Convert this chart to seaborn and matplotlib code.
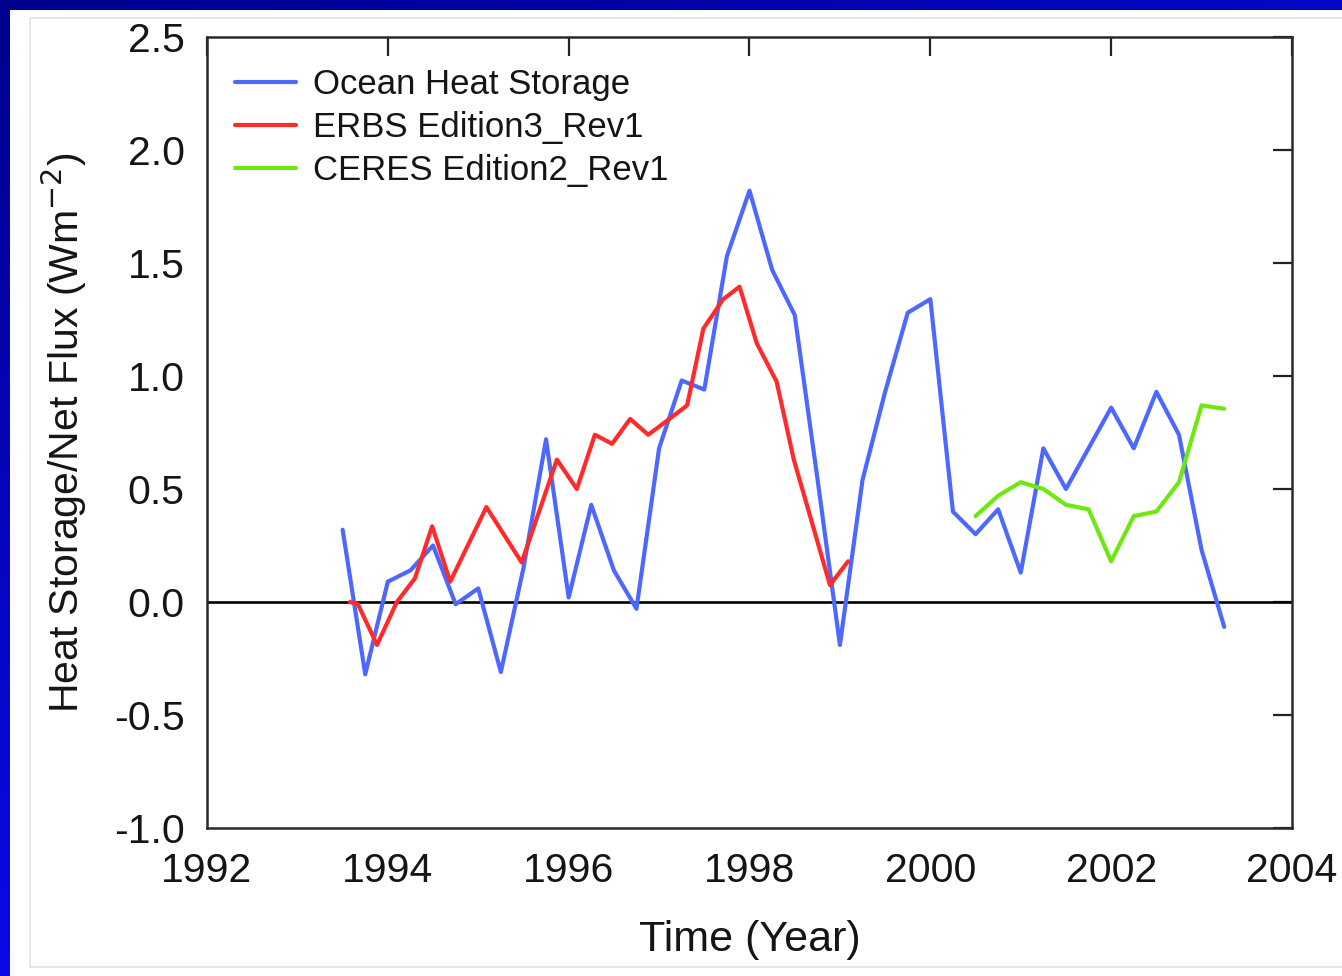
import numpy as np
import pandas as pd
import matplotlib
matplotlib.use("Agg")
import matplotlib.pyplot as plt
from matplotlib.patches import Rectangle
from matplotlib.lines import Line2D
import seaborn as sns

# Ocean heat storage (quarterly)
ocean_years = [1993.50, 1993.75, 1994.00, 1994.25, 1994.50, 1994.75, 1995.00, 1995.25,
               1995.50, 1995.75, 1996.00, 1996.25, 1996.50, 1996.75, 1997.00, 1997.25,
               1997.50, 1997.75, 1998.00, 1998.25, 1998.50, 1998.75, 1999.00, 1999.25,
               1999.50, 1999.75, 2000.00, 2000.25, 2000.50, 2000.75, 2001.00, 2001.25,
               2001.50, 2001.75, 2002.00, 2002.25, 2002.50, 2002.75, 2003.00, 2003.25]
ocean_vals = [0.32, -0.32, 0.09, 0.14, 0.25, -0.01, 0.06, -0.31,
              0.15, 0.72, 0.02, 0.43, 0.14, -0.03, 0.68, 0.98,
              0.94, 1.53, 1.82, 1.47, 1.27, 0.55, -0.19, 0.54,
              0.93, 1.28, 1.34, 0.40, 0.30, 0.41, 0.13, 0.68,
              0.50, 0.68, 0.86, 0.68, 0.93, 0.74, 0.23, -0.11]

# ERBS Edition3_Rev1 net flux
erbs_years = [1993.58, 1993.67, 1993.88, 1994.10, 1994.30, 1994.49, 1994.69, 1995.09,
              1995.48, 1995.87, 1996.09, 1996.29, 1996.48, 1996.68, 1996.88, 1997.08,
              1997.31, 1997.49, 1997.71, 1997.89, 1998.08, 1998.30, 1998.49, 1998.89,
              1999.09]
erbs_vals = [0.00, -0.01, -0.19, 0.00, 0.105, 0.335, 0.09, 0.42,
             0.175, 0.63, 0.50, 0.74, 0.70, 0.81, 0.74, 0.80,
             0.87, 1.21, 1.34, 1.395, 1.145, 0.975, 0.63, 0.075,
             0.18]

# CERES Edition2_Rev1 net flux
ceres_years = [2000.50, 2000.75, 2001.00, 2001.25, 2001.50, 2001.75,
               2002.00, 2002.25, 2002.50, 2002.75, 2003.00, 2003.25]
ceres_vals = [0.38, 0.47, 0.53, 0.50, 0.43, 0.41,
              0.18, 0.38, 0.40, 0.53, 0.87, 0.855]

series_names = ["Ocean Heat Storage", "ERBS Edition3_Rev1", "CERES Edition2_Rev1"]
series_colors = ["#4d68ff", "#ff2a2a", "#6ee810"]

x_ticks = [1992, 1994, 1996, 1998, 2000, 2002, 2004]
y_ticks = [-1.0, -0.5, 0.0, 0.5, 1.0, 1.5, 2.0, 2.5]

df = pd.concat([
    pd.DataFrame({"year": ocean_years, "value": ocean_vals, "series": series_names[0]}),
    pd.DataFrame({"year": erbs_years, "value": erbs_vals, "series": series_names[1]}),
    pd.DataFrame({"year": ceres_years, "value": ceres_vals, "series": series_names[2]}),
], ignore_index=True)

sns.set_theme(style="white")
plt.rcParams["font.family"] = ["Liberation Sans", "DejaVu Sans"]

W, H = 1342, 976
fig = plt.figure(figsize=(W / 100, H / 100), dpi=100)

# slide background: navy-to-blue gradient with a white panel
bg = fig.add_axes([0, 0, 1, 1], zorder=-10)
gx = np.linspace(0, 1, 256)[None, :]
gy = np.linspace(0, 1, 256)[:, None]
t = np.clip(0.5 * gx + 0.8 * gy, 0, 1)
grad = np.dstack([0.0 + 0.05 * t, 0.0 + 0.05 * t, 0.55 + 0.45 * t])
bg.imshow(grad, extent=[0, W, H, 0], aspect="auto")
bg.add_patch(Rectangle((10, 10), W, H, facecolor="white", edgecolor="none"))
bg.add_patch(Rectangle((30, 18), W, 967 - 18, facecolor="none",
                       edgecolor="#e2e5e8", lw=1.2))
bg.set_xlim(0, W)
bg.set_ylim(H, 0)
bg.axis("off")

ax = fig.add_axes([207 / W, 1 - 828 / H, (1292 - 207) / W, (828 - 37) / H])
ax.set_facecolor("none")

sns.lineplot(data=df, x="year", y="value", hue="series", hue_order=series_names,
             palette=series_colors, estimator=None, sort=False, linewidth=3.0,
             legend=False, ax=ax, zorder=3)
ax.axhline(0, color="black", lw=1.9, zorder=2)

ax.set_xlim(1992, 2004)
ax.set_ylim(-1.0, 2.5)
ax.set_xticks(x_ticks)
ax.set_xticklabels([str(v) for v in x_ticks])
ax.set_yticks(y_ticks)
ax.set_yticklabels([f"{v:.1f}" for v in y_ticks])
ax.tick_params(direction="in", top=True, right=True, length=14, width=1.6,
               color="#222222", labelsize=29.5, labelcolor="#151515")
ax.tick_params(axis="y", pad=16)
ax.tick_params(axis="x", pad=17)
for s in ax.spines.values():
    s.set_visible(True)
    s.set_color("#2a2a2a")
    s.set_linewidth(1.8)

ax.set_xlabel("Time (Year)", fontsize=31, color="#151515", labelpad=22)
ax.set_ylabel("Heat Storage/Net Flux (Wm$^{-2}$)", fontsize=29.5, color="#151515",
              labelpad=18)

handles = [Line2D([0], [0], color=c, lw=3.0) for c in series_colors]
ax.legend(handles, series_names, loc="upper left", frameon=False, fontsize=25,
          handlelength=1.75, handletextpad=0.5, labelspacing=0.28,
          borderaxespad=0, bbox_to_anchor=(0.013, 0.978), labelcolor="#151515")

fig.savefig("out.png", dpi=100)
